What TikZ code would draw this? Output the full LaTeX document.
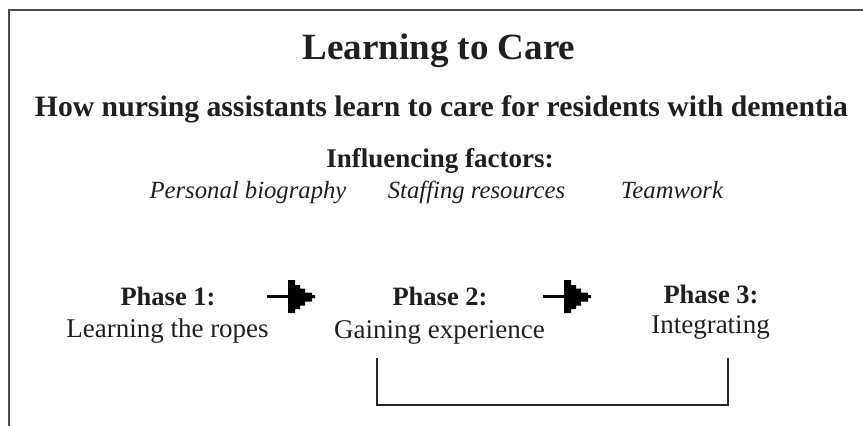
\documentclass[tikz,border=0pt]{standalone}
\usepackage{fontspec}
\setmainfont{Liberation Serif}
\begin{document}
\begin{tikzpicture}[x=1pt,y=-1pt,
  txt/.style={anchor=base,inner sep=0pt,text=black!88},
  ttl/.style={txt,font=\bfseries\fontsize{37}{40}\selectfont},
  sub/.style={txt,font=\bfseries\fontsize{29.7}{32}\selectfont},
  hdr/.style={txt,font=\bfseries\fontsize{27}{30}\selectfont},
  fac/.style={txt,font=\itshape\fontsize{24.7}{28}\selectfont},
  phs/.style={txt,font=\bfseries\fontsize{26.5}{30}\selectfont},
  dsc/.style={txt,font=\fontsize{27}{30}\selectfont},
  frame/.style={draw=black!70,line width=1.3pt},
  bracket/.style={draw=black!85,line width=1.2pt},
  steparrow/.pic={
    \fill[black] (-48,-1.6) rectangle (-25,1.6);
    \fill[black] (-27,-16.5) -- (-20,-16.5) -- (-20,-11.5) -- (-15,-11.5) -- (-15,-8) -- (-10,-8) -- (-10,-4) -- (-3,-4) -- (-3,-1.5) -- (0,-1.5)
      -- (0,1.5) -- (-3,1.5) -- (-3,5) -- (-10,5) -- (-10,9) -- (-15,9) -- (-15,12.5) -- (-20,12.5) -- (-20,16.5) -- (-27,16.5) -- cycle;
  }]
\useasboundingbox (0,0) rectangle (863,426);
\draw[frame] (863,10) -- (9,10) -- (9,426);

\node[ttl] (title) at (439,59) {Learning to Care};
\node[sub] (subtitle) at (441.5,116) {How nursing assistants learn to care for residents with dementia};
\node[hdr] (infl) at (440,167) {Influencing factors:};
\node[fac] (f1) at (248,198) {Personal biography};
\node[fac] (f2) at (476.5,198) {Staffing resources};
\node[fac] (f3) at (672,198) {Teamwork};

\node[phs] (p1) at (168,305) {Phase 1:};
\node[dsc] (d1) at (167.5,337) {Learning the ropes};
\node[phs] (p2) at (440,305) {Phase 2:};
\node[dsc] (d2) at (439.5,338) {Gaining experience};
\node[phs] (p3) at (711,303) {Phase 3:};
\node[dsc] (d3) at (710.5,333) {Integrating};

\pic at (315,296.5) {steparrow};
\pic at (591,296.5) {steparrow};

\coordinate (b1) at (377,358);
\coordinate (b2) at (728,358);
\draw[bracket] (b1) -- (b1 |- 0,405) -- (b2 |- 0,405) -- (b2);
\end{tikzpicture}
\end{document}
